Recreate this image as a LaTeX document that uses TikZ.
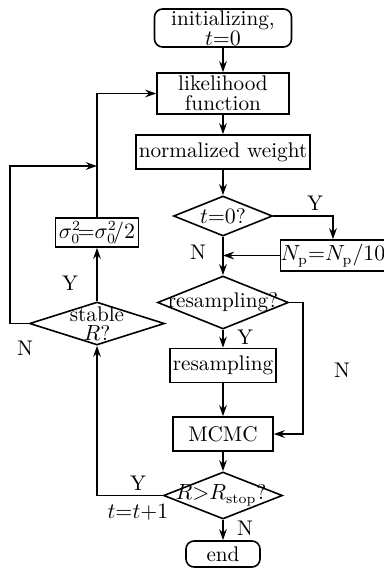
\documentclass[tikz,border=0pt]{standalone}
\usetikzlibrary{shapes.geometric,arrows.meta}
\begin{document}
\begin{tikzpicture}[x=0.5pt,y=-0.5pt,
  font=\fontsize{10.6}{9.8}\selectfont,
  box/.style={draw,line width=0.8pt,inner sep=0pt,align=center},
  rbox/.style={box,rounded corners=4pt},
  dia/.style={draw,diamond,line width=0.8pt,inner sep=0pt},
  flow/.style={line width=0.95pt,-{Stealth[length=5.5pt,width=3.8pt]}},
  lab/.style={inner sep=0pt}]
\useasboundingbox (0,0) rectangle (384,570);

% main column
\node[rbox,minimum width=68.5pt,minimum height=19pt] (init) at (223,28) {initializing,\\$t{=}0$};
\node[box,minimum width=66pt,minimum height=20.5pt] (lik) at (223,93.5) {likelihood\\function};
\node[box,minimum width=87pt,minimum height=17pt] (norm) at (223,152) {normalized weight};
\node[dia,minimum width=49.5pt,minimum height=20pt] (d1) at (223,216) {};
\node[lab] at (d1) {$t{=}0$?};
\node[box,minimum width=48.5pt,minimum height=15.5pt] (np) at (333,255.5) {$N_{\mathrm{p}}{=}N_{\mathrm{p}}/10$};
\node[dia,minimum width=65.5pt,minimum height=26.5pt] (d2) at (223,302.5) {};
\node[lab] at (d2) {resampling?};
\node[box,minimum width=53pt,minimum height=17pt] (rs) at (223,365.5) {resampling};
\node[box,minimum width=50pt,minimum height=17pt] (mc) at (223,434) {MCMC};
\node[dia,minimum width=59.5pt,minimum height=23.5pt] (d3) at (223,495.5) {};
\node[lab] at ([xshift=-1pt]d3.center) {$R{>}R_{\mathrm{stop}}$?};
\node[rbox,minimum width=37pt,minimum height=13pt] (end) at (223,554) {end};

% left column
\node[box,minimum width=41.5pt,minimum height=14.5pt] (sig) at (97,232.5) {$\sigma^2_0\!{=}\sigma^2_0\!/2$};
\node[dia,minimum width=67.5pt,minimum height=21.5pt] (d4) at (97,323.5) {};
\node[lab,align=center] at (d4) {stable\\$R$?};

% connectors
\coordinate (rj) at (303,0);
\coordinate (lx) at (10,166);
\draw[flow] (init.south) -- (lik.north);
\draw[flow] (lik.south) -- (norm.north);
\draw[flow] (norm.south) -- (d1.north);
\draw[flow] (d1.east) -| (np.north);
\draw[flow] (np.west) -- (np.west -| d1.south);
\draw[flow] (d1.south) -- (d2.north);
\draw[flow] (d2.south) -- (rs.north);
\draw[flow] (d2.east) -- (d2.east -| rj) |- (mc.east);
\draw[flow] (rs.south) -- (mc.north);
\draw[flow] (mc.south) -- (d3.north);
\draw[flow] (d3.south) -- (end.north);
\draw[flow] (d3.west) -| (d4.south);
\draw[flow] (d4.north) -- (sig.south);
\draw[flow] (sig.north) |- (lik.west);
\draw[flow] (d4.west) -| (lx) -- (lx -| sig.north);

% branch labels
\node[lab] at (315,203) {Y};
\node[lab] at (198,252) {N};
\node[lab] at (245,337) {Y};
\node[lab] at (342,370) {N};
\node[lab] at (70,283) {Y};
\node[lab] at (25,348) {N};
\node[lab] at (138,483) {Y};
\node[lab] at (138,512) {$t{=}t{+}1$};
\node[lab] at (245,528) {N};
\end{tikzpicture}
\end{document}
